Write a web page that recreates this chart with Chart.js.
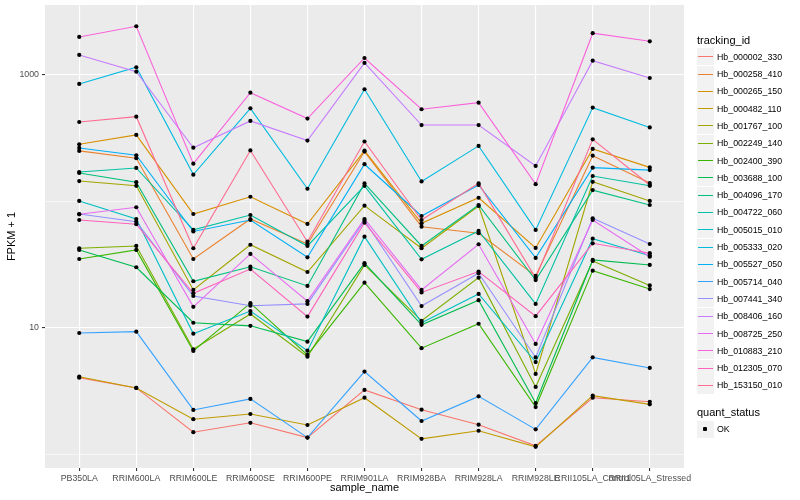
<!DOCTYPE html>
<html>
<head>
<meta charset="utf-8">
<script src="https://cdn.jsdelivr.net/npm/chart.js@4.4.0/dist/chart.umd.min.js"></script>
<style>
  body { margin: 0; background: #fff; font-family: "Liberation Sans", Arial, sans-serif; }
  #wrap { position: relative; width: 800px; height: 500px; }
  #legend { position: absolute; left: 0; top: 0; width: 800px; height: 500px; pointer-events: none; }
  .ttl { position: absolute; left: 697px; font-size: 11px; line-height: 13px; color: #000; white-space: nowrap; }
  .key { position: absolute; left: 697px; width: 17px; height: 17px; background: #F2F2F2; }
  .key span { position: absolute; left: 1px; right: 1px; top: 8px; height: 1px; }
  .lab { position: absolute; left: 717px; font-size: 8.8px; line-height: 10px; color: #000; white-space: nowrap; }
  .dot { position: absolute; left: 6px; top: 6px; width: 4px; height: 4px; background: #000; border-radius: 1px; }
</style>
</head>
<body>
<div id="wrap">
  <canvas id="chart" width="800" height="500"></canvas>
  <div id="legend"></div>
</div>
<script>
// --- DONNEES ---
const samples = ['PB350LA', 'RRIM600LA', 'RRIM600LE', 'RRIM600SE', 'RRIM600PE', 'RRIM901LA',
                 'RRIM928BA', 'RRIM928LA', 'RRIM928LE', 'RRII105LA_Control', 'RRII105LA_Stressed'];
const trackingIds = ['Hb_000002_330', 'Hb_000258_410', 'Hb_000265_150', 'Hb_000482_110', 'Hb_001767_100',
                     'Hb_002249_140', 'Hb_002400_390', 'Hb_003688_100', 'Hb_004096_170', 'Hb_004722_060',
                     'Hb_005015_010', 'Hb_005333_020', 'Hb_005527_050', 'Hb_005714_040', 'Hb_007441_340',
                     'Hb_008406_160', 'Hb_008725_250', 'Hb_010883_210', 'Hb_012305_070', 'Hb_153150_010'];
const colors = ['#F8766D', '#EA8331', '#D89000', '#C09B00', '#A3A500', '#7CAE00', '#39B600', '#00BB4E',
                '#00BF7D', '#00C1A3', '#00BFC4', '#00BAE0', '#00B0F6', '#35A2FF', '#9590FF', '#C77CFF',
                '#E76BF3', '#FA62DB', '#FF62BC', '#FF6C91'];

// FPKM + 1, one value per sample
const hb000002_330 = [4.05, 3.36, 1.50, 1.78, 1.36, 3.24, 2.26, 1.72, 1.17, 2.81, 2.61];
const hb000258_410 = [251, 220, 35.1, 72.7, 46.1, 248, 63.2, 56.1, 25.8, 230, 140];
const hb000265_150 = [283, 336, 79.6, 109, 66.4, 252, 67.3, 107, 42.9, 260, 186];
const hb000482_110 = [4.12, 3.36, 1.90, 2.09, 1.71, 2.81, 1.33, 1.54, 1.15, 2.92, 2.49];
const hb001767_100 = [145, 133, 20.0, 45.5, 27.7, 92.7, 42.7, 92.1, 4.33, 143, 101];
const hb002249_140 = [42.7, 44.5, 6.79, 12.9, 5.93, 31.5, 11.4, 25.0, 3.42, 33.9, 21.7];
const hb002400_390 = [35.1, 41.4, 6.58, 15.7, 6.12, 22.8, 6.92, 10.8, 2.37, 28.4, 20.3];
const hb003688_100 = [41.4, 30.2, 11.0, 10.4, 7.80, 32.5, 10.6, 16.6, 2.55, 34.5, 31.5];
const hb004096_170 = [168, 142, 23.4, 30.5, 21.5, 139, 44.5, 93.8, 23.9, 123, 93.8];
const hb004722_060 = [171, 184, 59.6, 78.2, 44.5, 133, 34.9, 58.5, 15.5, 159, 133];
const hb005015_010 = [101, 72.7, 9.01, 13.6, 6.62, 52.7, 11.0, 18.6, 5.38, 50.8, 37.3];
const hb005333_020 = [849, 1151, 163, 545, 126, 771, 144, 275, 59.6, 552, 385];
const hb005527_050 = [265, 232, 57.9, 71.4, 36.2, 197, 76.8, 135, 35.8, 185, 177];
const hb005714_040 = [9.13, 9.35, 2.25, 2.75, 1.36, 4.52, 1.84, 2.88, 1.58, 5.86, 4.83];
const hb007441_340 = [79.6, 69.2, 17.9, 15.0, 15.5, 70.5, 14.9, 27.1, 5.85, 73.6, 46.1];
const hb008406_160 = [1439, 1062, 266, 433, 303, 1245, 402, 402, 191, 1297, 946];
const hb008725_250 = [79.2, 90.0, 14.7, 38.5, 16.3, 72.7, 20.0, 45.9, 7.48, 71.4, 36.6];
const hb010883_210 = [1997, 2427, 199, 725, 452, 1362, 536, 604, 137, 2138, 1846];
const hb012305_070 = [71.4, 66.1, 18.8, 29.2, 12.3, 67.9, 19.1, 27.9, 12.4, 46.7, 39.0];
const hb153150_010 = [425, 468, 42.7, 253, 48.1, 298, 71.4, 139, 24.8, 310, 135];

const seriesValues = [hb000002_330, hb000258_410, hb000265_150, hb000482_110, hb001767_100,
                      hb002249_140, hb002400_390, hb003688_100, hb004096_170, hb004722_060,
                      hb005015_010, hb005333_020, hb005527_050, hb005714_040, hb007441_340,
                      hb008406_160, hb008725_250, hb010883_210, hb012305_070, hb153150_010];

const yTicks = [1, 10, 100, 1000];
const yLabels = [10, 1000];
const yMin = 0.782, yMax = 3573;

// --- FOND DU PANNEAU ---
const panelBg = {
    id: 'panelBg',
    beforeDraw(chart) {
        const a = chart.chartArea, ctx = chart.ctx;
        ctx.save();
        ctx.fillStyle = '#EBEBEB';
        ctx.fillRect(a.left, a.top, a.right - a.left, a.bottom - a.top);
        ctx.restore();
    }
};

Chart.defaults.font.family = '"Liberation Sans", Arial, sans-serif';

let datasets = trackingIds.map((id, i) => ({
    type: 'line',
    label: id,
    data: seriesValues[i].map((v, j) => ({ x: j, y: v })),
    borderColor: colors[i],
    backgroundColor: colors[i],
    borderWidth: 1.1,
    pointRadius: 0,
    fill: false,
    tension: 0,
    order: 100 - i
}));

let allPoints = [];
seriesValues.forEach(s => s.forEach((v, j) => allPoints.push({ x: j, y: v })));
datasets.push({
    type: 'scatter',
    label: 'OK',
    data: allPoints,
    backgroundColor: '#000',
    borderWidth: 0,
    pointRadius: 2.1,
    order: 0
});

new Chart(document.getElementById('chart').getContext('2d'), {
    type: 'line',
    data: { datasets: datasets },
    plugins: [panelBg],
    options: {
        responsive: false,
        animation: false,
        layout: { padding: { left: 0, right: 116, top: 5, bottom: 0 } },
        plugins: { legend: { display: false }, tooltip: { enabled: false } },
        scales: {
            x: {
                type: 'linear', min: -0.6, max: 10.6, bounds: 'data',
                afterBuildTicks: s => { s.ticks = samples.map((_, j) => ({ value: j })); },
                afterFit: s => { s.height = 32; s.paddingLeft = 0; s.paddingRight = 0; },
                ticks: {
                    callback: v => samples[v],
                    color: '#4D4D4D', font: { size: 8.8 },
                    maxRotation: 0, minRotation: 0, autoSkip: false, padding: 2
                },
                grid: { color: '#FFFFFF', lineWidth: 1.1, tickLength: 3, tickColor: '#333333' },
                border: { display: false },
                title: { display: true, text: 'sample_name', color: '#000', font: { size: 11 }, padding: { top: 0, bottom: 5 } }
            },
            y: {
                type: 'logarithmic', min: yMin, max: yMax, bounds: 'data',
                afterBuildTicks: s => { s.ticks = yTicks.map(v => ({ value: v })); },
                afterFit: s => { s.width = 45; s.paddingTop = 0; s.paddingBottom = 0; },
                ticks: {
                    callback: v => yLabels.includes(v) ? String(v) : '',
                    color: '#4D4D4D', font: { size: 8.8 }, padding: 3
                },
                grid: {
                    color: '#FFFFFF',
                    lineWidth: c => (c.tick && yLabels.includes(c.tick.value)) ? 1.1 : 0.55,
                    tickLength: 3,
                    tickColor: c => (c.tick && yLabels.includes(c.tick.value)) ? '#333333' : 'rgba(0,0,0,0)'
                },
                border: { display: false },
                title: { display: true, text: 'FPKM + 1', color: '#000', font: { size: 11 }, padding: { top: 5, bottom: 0 } }
            }
        }
    }
});

// --- LEGENDE ---
const leg = document.getElementById('legend');
let html = '<div class="ttl" style="top:34px">tracking_id</div>';
trackingIds.forEach((id, i) => {
    let cy = 56.7 + i * 17.3;
    html += `<div class="key" style="top:${Math.round(cy - 8.5)}px"><span style="background:${colors[i]}"></span></div>`;
    html += `<div class="lab" style="top:${Math.round(cy - 5)}px">${id}</div>`;
});
html += '<div class="ttl" style="top:406px">quant_status</div>';
html += '<div class="key" style="top:421px"><div class="dot"></div></div>';
html += '<div class="lab" style="top:424px">OK</div>';
leg.innerHTML = html;
</script>
</body>
</html>
